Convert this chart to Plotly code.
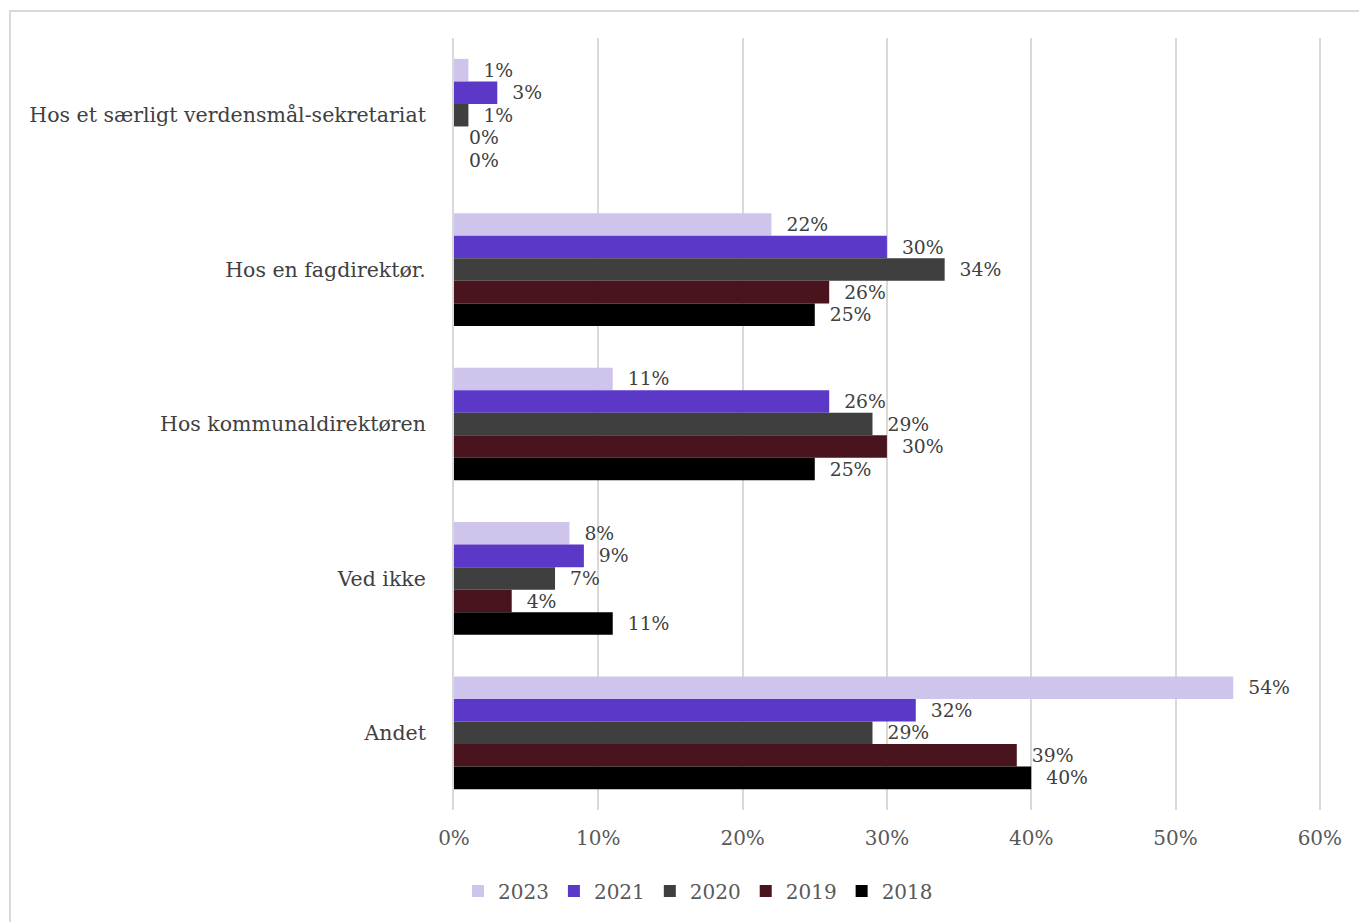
import plotly.graph_objects as go

categories = ["Hos et særligt verdensmål-sekretariat", "Hos en fagdirektør.", "Hos kommunaldirektøren", "Ved ikke", "Andet"]
years = ["2023", "2021", "2020", "2019", "2018"]
v2023 = [1, 22, 11, 8, 54]
v2021 = [3, 30, 26, 9, 32]
v2020 = [1, 34, 29, 7, 29]
v2019 = [0, 26, 30, 4, 39]
v2018 = [0, 25, 25, 11, 40]
series = [v2023, v2021, v2020, v2019, v2018]
colors = ["#CFC4EC", "#5B38C8", "#3F3F3F", "#4A141F", "#000000"]

FONT = "DejaVu Serif"
W, H = 1367, 922
L, R, T, B = 446, 54, 30, 120
PW, PH = W - L - R, H - T - B

fig = go.Figure()
for name, vals, col in zip(years, series, colors):
    fig.add_trace(go.Bar(
        y=categories, x=vals, name=name, orientation="h",
        marker=dict(color=col, line=dict(width=0)),
        text=[f"  {v}%" for v in vals], textposition="outside",
        textfont=dict(family=FONT, size=20, color="#404040"),
        cliponaxis=False,
    ))

fig.update_layout(
    barmode="group", bargap=0.27, bargroupgap=0,
    width=W, height=H,
    margin=dict(l=L, r=R, t=T, b=B, autoexpand=False),
    paper_bgcolor="white", plot_bgcolor="white",
    font=dict(family=FONT, size=20, color="#404040"),
    xaxis=dict(range=[0, 60.08], dtick=10, ticksuffix="%", showgrid=True,
               gridcolor="#D9D9D9", gridwidth=2, zeroline=False,
               tickfont=dict(family=FONT, size=20, color="#595959"),
               ticks="outside", ticklen=10, tickcolor="white"),
    yaxis=dict(autorange="reversed", showgrid=False, zeroline=False,
               tickfont=dict(family=FONT, size=20.5, color="#404040"),
               ticks="outside", ticklen=22, tickcolor="white",
               showline=True, linecolor="#D9D9D9", linewidth=2),
    legend=dict(orientation="h", xref="container", yref="container",
                x=690 / W, xanchor="center", y=1 - 883 / H, yanchor="middle",
                font=dict(family=FONT, size=20, color="#595959"),
                itemwidth=30, traceorder="normal"),
    showlegend=True,
    shapes=[dict(type="rect", xref="paper", yref="paper",
                 x0=(2 - L) / PW, x1=1.2, y0=-0.3, y1=(PH + T - 3) / PH,
                 line=dict(color="#D9D9D9", width=2), fillcolor="rgba(0,0,0,0)", layer="below")],
)
fig.write_html("out.html")
